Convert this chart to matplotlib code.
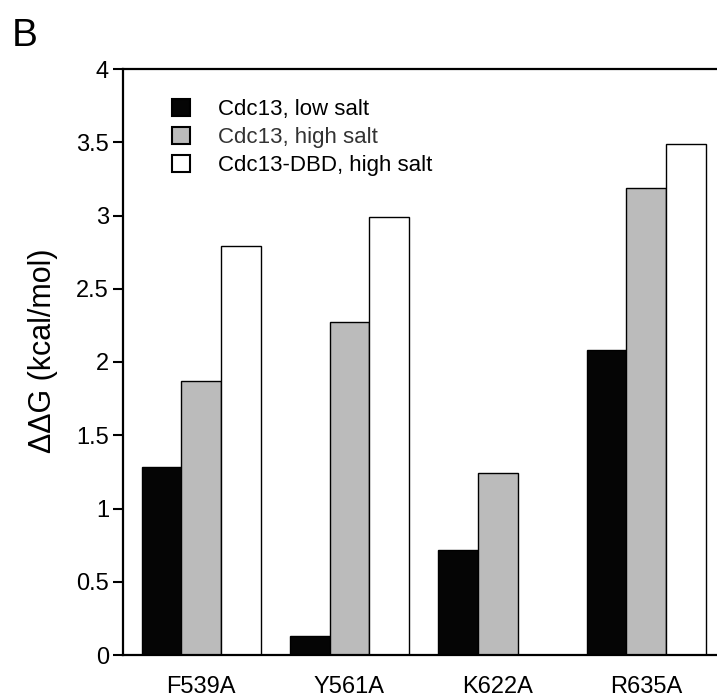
import numpy as np
import matplotlib
matplotlib.use("Agg")
import matplotlib.pyplot as plt
from matplotlib.patches import Patch

plt.rcParams['font.family'] = ['Liberation Sans', 'DejaVu Sans']

mutants = ['F539A', 'Y561A', 'K622A', 'R635A']
low_salt = [1.28, 0.13, 0.72, 2.08]
high_salt = [1.87, 2.27, 1.24, 3.19]
dbd_high_salt = [2.79, 2.99, 0.0, 3.49]
series_labels = ['Cdc13, low salt', 'Cdc13, high salt', 'Cdc13-DBD, high salt']

fig = plt.figure(figsize=(7.17, 7.0), dpi=100)
ax = fig.add_axes([123 / 717, 45 / 700, 1 - 123 / 717, 586 / 700])

x = np.arange(len(mutants))
w = 0.2677
ax.bar(x - w, low_salt, w, color='#050505', edgecolor='black', linewidth=1)
ax.bar(x, high_salt, w, color='#bbbbbb', edgecolor='black', linewidth=1)
# K622A has no DBD value, skip zero bars
dbd = np.array(dbd_high_salt)
mask = dbd > 0
ax.bar(x[mask] + w, dbd[mask], w, color='white', edgecolor='black', linewidth=1)

ax.set_xlim(-0.527, 3.478)
ax.set_ylim(0, 4)
ax.set_yticks([0, 0.5, 1, 1.5, 2, 2.5, 3, 3.5, 4])
ax.set_yticklabels(['0', '0.5', '1', '1.5', '2', '2.5', '3', '3.5', '4'], fontsize=17)
ax.set_xticks(x)
ax.set_xticklabels(mutants, fontsize=17)
ax.tick_params(axis='y', direction='out', length=7, width=1.5, pad=3)
ax.tick_params(axis='x', length=0, pad=15)

ax.spines['right'].set_visible(False)
for s in ['left', 'bottom', 'top']:
    ax.spines[s].set_linewidth(1.6)

ax.set_ylabel('\u0394\u0394G (kcal/mol)', fontsize=22)
ax.yaxis.set_label_coords(-0.11, 0.52)

handles = [
    Patch(facecolor='#050505', edgecolor='black', linewidth=1.5),
    Patch(facecolor='#bbbbbb', edgecolor='black', linewidth=1.5),
    Patch(facecolor='white', edgecolor='black', linewidth=1.5),
]
leg = ax.legend(handles, series_labels, loc='upper left',
                bbox_to_anchor=(172 / 717, 1 - 99 / 700),
                bbox_transform=fig.transFigure, frameon=False,
                fontsize=16, handlelength=0.8, handleheight=0.8,
                handletextpad=1.25, labelspacing=0.3, borderpad=0,
                borderaxespad=0)
leg.get_texts()[1].set_color('#333333')

fig.text(12 / 717, 1 - 46 / 700, 'B', fontsize=28)

fig.savefig('out.png', dpi=100)
